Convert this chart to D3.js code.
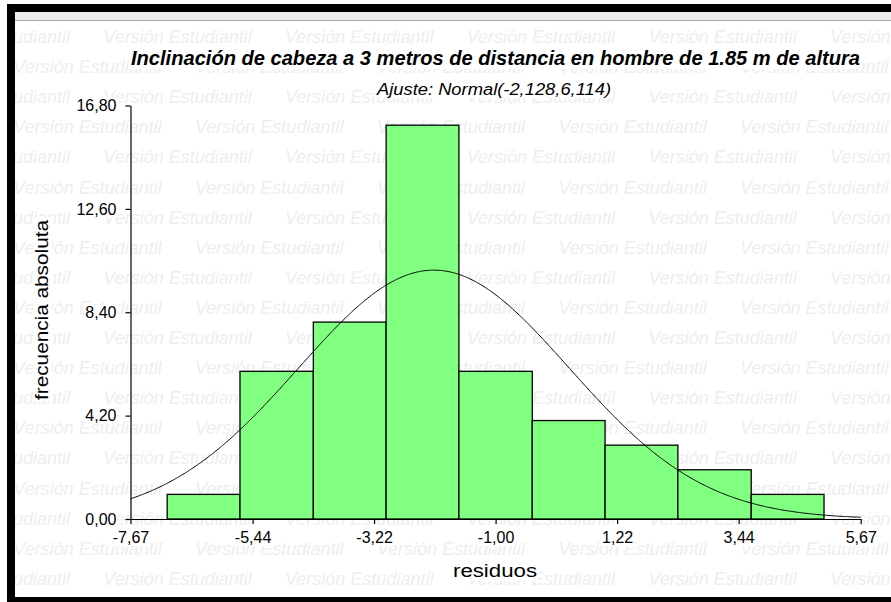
<!DOCTYPE html>
<html>
<head>
<meta charset="utf-8">
<script src="https://cdn.jsdelivr.net/npm/d3@7"></script>
<style>
  html, body { margin: 0; padding: 0; background: #fff; }
  svg { display: block; }
</style>
</head>
<body>
<script>
// Histogram of residuals with fitted normal curve
const counts   = [1, 6, 8, 16, 6, 4, 3, 2, 1];
const binEdges = [-7.00, -5.67, -4.33, -3.00, -1.67, -0.33, 1.00, 2.33, 3.67, 5.00];
const xTicks   = [-7.67, -5.44, -3.22, -1.00, 1.22, 3.44, 5.67];
const yTicks   = [0, 4.20, 8.40, 12.60, 16.80];
const fitMean  = -2.128;
const fitVar   = 6.114;

const titleText    = "Inclinación de cabeza a 3 metros de distancia en hombre de 1.85 m de altura";
const subtitleText = "Ajuste: Normal(-2,128,6,114)";
const xLabel       = "residuos";
const yLabel       = "frecuencia absoluta";
const watermark    = "Versión Estudiantil";

const W = 891, H = 602;
const FONT = "'Liberation Sans', Arial, sans-serif";

const locale = d3.formatLocale({decimal: ",", thousands: ".", grouping: [3], currency: ["", ""], minus: "-"});
const fmt = locale.format(".2f");

const svg = d3.select("body").append("svg")
  .attr("width", W).attr("height", H)
  .style("font-family", FONT);

svg.append("rect").attr("width", W).attr("height", H).attr("fill", "#fff");

// window frame
svg.append("rect").attr("x", 15).attr("y", 12).attr("width", W - 15).attr("height", 8).attr("fill", "#eeeeee");
svg.append("line").attr("x1", 15).attr("x2", W).attr("y1", 20.5).attr("y2", 20.5).attr("stroke", "#a9a9a9");

// background watermark
const clip = svg.append("defs").append("clipPath").attr("id", "wm");
clip.append("rect").attr("x", 15).attr("y", 21).attr("width", W - 15).attr("height", 576);
const wm = svg.append("g").attr("clip-path", "url(#wm)")
  .style("font-size", "18px").style("font-style", "italic").attr("fill", "#eeeeee");
const period = 181.7;
for (let k = 0; k < 19; k++) {
  const cy = 36.5 + 30.1 * k;
  let x0 = (k % 2 === 0 ? 103.3 : 13.3) - period;
  for (let x = x0; x < W; x += period) {
    wm.append("text").attr("x", x).attr("y", cy + 6.5).text(watermark);
  }
}

svg.append("rect").attr("x", 7).attr("y", 4).attr("width", W - 7).attr("height", 8).attr("fill", "#000");
svg.append("rect").attr("x", 7).attr("y", 4).attr("width", 8).attr("height", H - 4).attr("fill", "#000");
svg.append("rect").attr("x", 7).attr("y", 597).attr("width", W - 7).attr("height", 5).attr("fill", "#000");

// white box behind a text element
function backdrop(node, pad) {
  const b = node.getBBox();
  d3.select(node.parentNode).insert("rect", () => node)
    .attr("x", b.x - pad).attr("y", b.y + 1).attr("width", b.width + 2 * pad).attr("height", b.height - 1)
    .attr("fill", "#fff");
}

// titles
const tTitle = svg.append("text")
  .attr("x", 495.5).attr("y", 65).attr("text-anchor", "middle")
  .style("font-size", "21px").style("font-weight", "bold").style("font-style", "italic")
  .attr("textLength", 729).attr("lengthAdjust", "spacingAndGlyphs")
  .text(titleText);
backdrop(tTitle.node(), 2);

const tSub = svg.append("text")
  .attr("x", 494).attr("y", 95).attr("text-anchor", "middle")
  .style("font-size", "16px").style("font-style", "italic")
  .attr("textLength", 234).attr("lengthAdjust", "spacingAndGlyphs")
  .text(subtitleText);
backdrop(tSub.node(), 2);

// scales
const x = d3.scaleLinear().domain([xTicks[0], xTicks[xTicks.length - 1]]).range([130.5, 860.7]);
const y = d3.scaleLinear().domain([yTicks[0], yTicks[yTicks.length - 1]]).range([519, 105.5]);

// bars
svg.append("g").selectAll("rect").data(counts).join("rect")
  .attr("x", (d, i) => x(binEdges[i]))
  .attr("width", (d, i) => x(binEdges[i + 1]) - x(binEdges[i]))
  .attr("y", d => y(d))
  .attr("height", d => y(0) - y(d))
  .attr("fill", "#80ff80").attr("stroke", "#000").attr("stroke-width", 1.3);

// fitted normal density scaled to counts
const n = d3.sum(counts);
const binW = (binEdges[binEdges.length - 1] - binEdges[0]) / counts.length;
const sd = Math.sqrt(fitVar);
const dens = v => n * binW * Math.exp(-0.5 * ((v - fitMean) / sd) ** 2) / (sd * Math.sqrt(2 * Math.PI));
const xs = d3.range(xTicks[0], xTicks[xTicks.length - 1] + 1e-9, 0.02);
svg.append("path")
  .datum(xs)
  .attr("fill", "none").attr("stroke", "#000").attr("stroke-width", 1)
  .attr("d", d3.line().x(v => x(v)).y(v => y(dens(v))));

// axes
const gx = svg.append("g").attr("transform", "translate(0,519)")
  .call(d3.axisBottom(x).tickValues(xTicks).tickFormat(fmt).tickSize(5).tickSizeOuter(0).tickPadding(8));
const gy = svg.append("g").attr("transform", "translate(130.5,0)")
  .call(d3.axisLeft(y).tickValues(yTicks).tickFormat(fmt).tickSize(5).tickSizeOuter(0).tickPadding(9));
[gx, gy].forEach(g => {
  g.attr("font-family", FONT).attr("font-size", 16);
  g.selectAll("path, line").attr("stroke", "#000").attr("stroke-width", 1.2);
  g.selectAll("text").attr("fill", "#000").each(function () { backdrop(this, 1); });
});

// axis titles
const tx = svg.append("text")
  .attr("x", 495).attr("y", 577).attr("text-anchor", "middle")
  .style("font-size", "18px")
  .attr("textLength", 84).attr("lengthAdjust", "spacingAndGlyphs")
  .text(xLabel);
backdrop(tx.node(), 1);

const gyl = svg.append("g").attr("transform", "translate(48,310) rotate(-90)");
const ty = gyl.append("text")
  .attr("x", 0).attr("y", 0).attr("text-anchor", "middle")
  .style("font-size", "18px")
  .attr("textLength", 180).attr("lengthAdjust", "spacingAndGlyphs")
  .text(yLabel);
backdrop(ty.node(), 1);
</script>
</body>
</html>
